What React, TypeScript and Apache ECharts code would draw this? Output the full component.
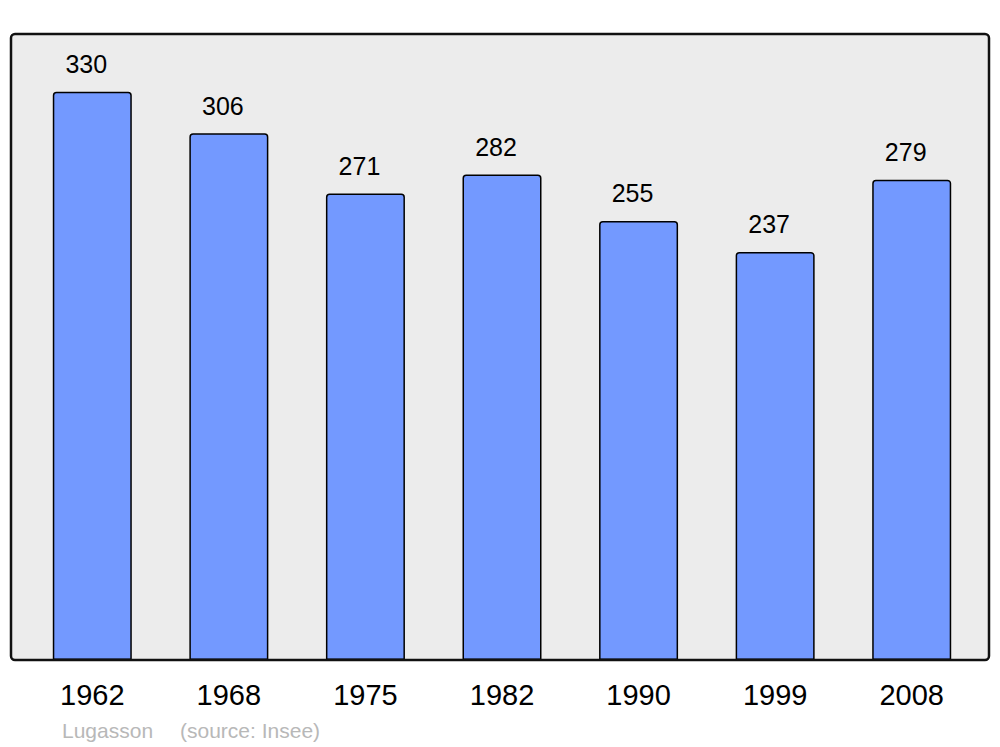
import React, { useEffect, useRef } from "react";
import * as echarts from "echarts";

const years = ["1962", "1968", "1975", "1982", "1990", "1999", "2008"];
const population = [330, 306, 271, 282, 255, 237, 279];
const townName = "Lugasson";
const sourceText = "(source: Insee)";

export default function App() {
  const ref = useRef<HTMLDivElement>(null);
  useEffect(() => {
    if (!ref.current) return;
    const chart = echarts.init(ref.current, null, { renderer: "svg" });
    const font = "'Liberation Sans', Arial, sans-serif";
    chart.setOption({
      animation: false,
      grid: { left: 24, right: 20, top: 34, bottom: 87 },
      xAxis: {
        type: "category",
        data: years,
        axisLine: { show: false },
        axisTick: { show: false },
        axisLabel: { fontSize: 29, color: "#000", fontFamily: font, margin: 20 },
      },
      yAxis: {
        type: "value",
        min: 0,
        max: 363.6,
        show: false,
        splitLine: { show: false },
      },
      graphic: [
        {
          type: "rect",
          z: -10,
          shape: { x: 11, y: 34, width: 978, height: 626, r: 4 },
          style: { fill: "#ececec", stroke: "none" },
        },
        {
          type: "rect",
          z: 100,
          shape: { x: 11, y: 34, width: 978, height: 626, r: 4 },
          style: { fill: "none", stroke: "#111", lineWidth: 2.5 },
        },
        {
          type: "text",
          x: 62,
          y: 730,
          style: { text: townName, fontSize: 21, fill: "#b8b8b8", fontFamily: font, verticalAlign: "middle" },
        },
        {
          type: "text",
          x: 180,
          y: 730,
          style: { text: sourceText, fontSize: 21, fill: "#b8b8b8", fontFamily: font, verticalAlign: "middle" },
        },
      ],
      series: [
        {
          type: "bar",
          data: population,
          barWidth: 79,
          itemStyle: {
            color: "#7399ff",
            borderColor: "#000",
            borderWidth: 1.5,
            borderRadius: [3, 3, 0, 0],
          },
          label: {
            show: true,
            position: "top",
            distance: 15,
            offset: [-6, 0],
            fontSize: 25,
            color: "#000",
            fontFamily: font,
          },
        },
      ],
    });
    return () => chart.dispose();
  }, []);
  return <div ref={ref} style={{ width: 1000, height: 747, position: "absolute", left: 0, top: 0 }} />;
}
